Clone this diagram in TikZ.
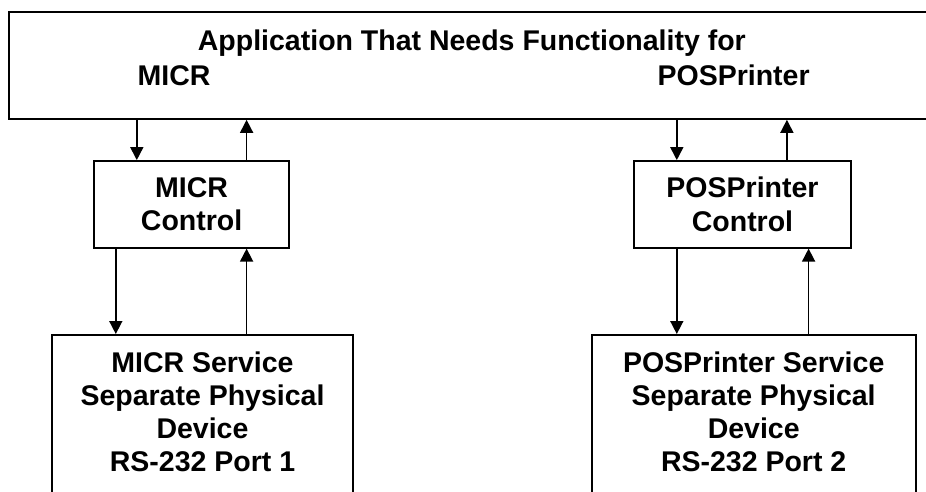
\documentclass[tikz,border=0pt]{standalone}
\usepackage{fontspec}
\setmainfont{Liberation Sans}
\usetikzlibrary{arrows.meta}

\begin{document}
\begin{tikzpicture}[x=1pt, y=-1pt, line width=1.8pt,
    box/.style={draw, rectangle, inner sep=0pt, align=center,
      font=\fontsize{28.5}{33.2}\selectfont\bfseries},
    service/.style={box, anchor=north, inner ysep=16.7pt,
      text height=120pt, text depth=160pt},
    lbl/.style={inner sep=0pt, anchor=base west,
      font=\fontsize{28.5}{33.2}\selectfont\bfseries},
    flow/.style={-{Triangle[length=13pt,width=13pt]}, line width=1.6pt}]
  \clip (0,0) rectangle (926,491);

  % application on top, runs off the right side
  \node[box, anchor=north west, minimum width=960pt, minimum height=107.3pt] (app) at (7.7,10.7) {};
  \node[lbl] (title) at (197,50.5) {Application That Needs Functionality for};
  \node[lbl] (micrlbl) at (136.7,85) {MICR};
  \node[lbl] (poslbl) at (656.7,85) {POSPrinter};

  % controls
  \node[box, minimum width=194.7pt, minimum height=86.7pt] (micrctl) at (191.65,204.35) {MICR\\Control};
  \node[box, minimum width=216.4pt, minimum height=86.7pt] (posctl) at (742.5,204.35) {POSPrinter\\Control};

  % services
  \node[service, minimum width=301.6pt] (micrsvc) at (202.5,334) {MICR Service\\Separate Physical\\Device\\RS-232 Port 1};
  \node[service, minimum width=324pt] (possvc) at (753.7,334) {POSPrinter Service\\Separate Physical\\Device\\RS-232 Port 2};

  \draw[flow] ([xshift=43.4pt]micrctl.north west |- app.south) -- ([xshift=43.4pt]micrctl.north west);
  \draw[flow] ([xshift=-43.3pt]micrctl.north east) -- ([xshift=-43.3pt]micrctl.north east |- app.south);
  \draw[flow] ([xshift=22.4pt]micrctl.south west) -- ([xshift=22.4pt]micrctl.south west |- micrsvc.north);
  \draw[flow] ([xshift=-43.3pt]micrctl.south east |- micrsvc.north) -- ([xshift=-43.3pt]micrctl.south east);

  \draw[flow] ([xshift=43.4pt]posctl.north west |- app.south) -- ([xshift=43.4pt]posctl.north west);
  \draw[flow] ([xshift=-64.7pt]posctl.north east) -- ([xshift=-64.7pt]posctl.north east |- app.south);
  \draw[flow] ([xshift=43.4pt]posctl.south west) -- ([xshift=43.4pt]posctl.south west |- possvc.north);
  \draw[flow] ([xshift=-43pt]posctl.south east |- possvc.north) -- ([xshift=-43pt]posctl.south east);
\end{tikzpicture}
\end{document}
